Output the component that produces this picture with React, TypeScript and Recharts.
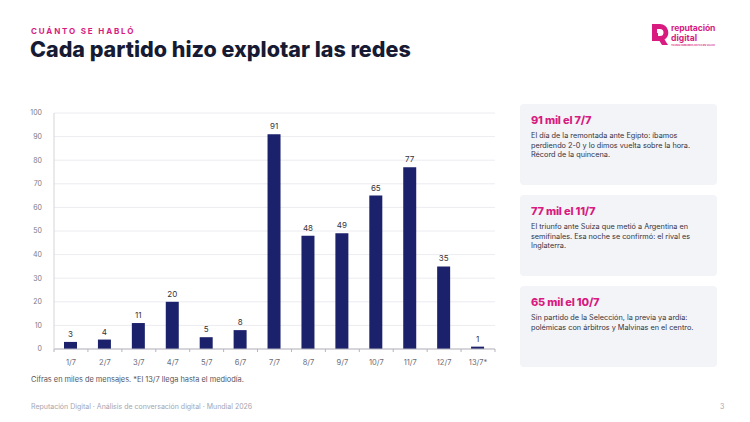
import { Bar, BarChart, CartesianGrid, LabelList, XAxis, YAxis } from "recharts";

const days = ["1/7", "2/7", "3/7", "4/7", "5/7", "6/7", "7/7", "8/7", "9/7", "10/7", "11/7", "12/7", "13/7*"];
const mensajes = [3, 4, 11, 20, 5, 8, 91, 48, 49, 65, 77, 35, 1];
const yTicks = [0, 10, 20, 30, 40, 50, 60, 70, 80, 90, 100];

const highlights = [
  {
    title: "91 mil el 7/7",
    text: "El día de la remontada ante Egipto: íbamos perdiendo 2-0 y lo dimos vuelta sobre la hora. Récord de la quincena.",
  },
  {
    title: "77 mil el 11/7",
    text: "El triunfo ante Suiza que metió a Argentina en semifinales. Esa noche se confirmó: el rival es Inglaterra.",
  },
  {
    title: "65 mil el 10/7",
    text: "Sin partido de la Selección, la previa ya ardía: polémicas con árbitros y Malvinas en el centro.",
  },
];

const PINK = "#d81b7f";
const NAVY = "#1b216b";
const FONT = "Inter, 'Noto Sans', sans-serif";

const CHART_W = 510;
const CHART_H = 275;
const M_LEFT = 54;
const M_RIGHT = 15;
const step = (CHART_W - M_LEFT - M_RIGHT) / days.length;

const rows = days.map((day, i) => ({ day, value: mensajes[i] }));

// category label plus a small tick mark on the band's left edge
function DayTick(props: any) {
  const { x, y, payload, index } = props;
  const left = x - step / 2;
  return (
    <g>
      <line x1={left} x2={left} y1={y - 8} y2={y - 5} stroke="#b5b5bd" strokeWidth={1} />
      {index === days.length - 1 && (
        <line x1={x + step / 2} x2={x + step / 2} y1={y - 8} y2={y - 5} stroke="#b5b5bd" strokeWidth={1} />
      )}
      <text x={x} y={y + 8} textAnchor="middle" fontSize={7.5} fill="#6b6b78" fontFamily={FONT}>
        {payload.value}
      </text>
    </g>
  );
}

function Logo() {
  return (
    <div style={{ position: "absolute", left: 652, top: 24, display: "flex", alignItems: "flex-start" }}>
      <svg width={17} height={21} viewBox="0 0 17 21">
        <path d="M0 0 H8 A8.5 8.5 0 0 1 12.5 15.5 L16 21 H10 L7.5 17 H0 Z M5 5 V12 H8 A3.5 3.5 0 0 0 8 5 Z" fill={PINK} fillRule="evenodd" />
        <rect x={0} y={9} width={6} height={3.5} fill={PINK} />
      </svg>
      <div style={{ marginLeft: 2, color: PINK, fontFamily: FONT, fontWeight: 700 }}>
        <div style={{ fontSize: 8.6, lineHeight: "9.5px", letterSpacing: -0.1 }}>reputación</div>
        <div style={{ fontSize: 8.6, lineHeight: "9.5px" }}>digital</div>
        <div style={{ fontSize: 2.4, lineHeight: "3px", fontWeight: 600, marginTop: 1 }}>
          TRANSFORMAMOS DATOS EN VALOR
        </div>
      </div>
    </div>
  );
}

export default function App() {
  return (
    <div
      style={{
        position: "absolute",
        left: 0,
        top: 0,
        width: 750,
        height: 422,
        background: "#ffffff",
        fontFamily: FONT,
        overflow: "hidden",
      }}
    >
      <div
        style={{
          position: "absolute",
          left: 31,
          top: 26,
          fontSize: 8,
          fontWeight: 700,
          letterSpacing: 1.85,
          color: PINK,
        }}
      >
        CUÁNTO SE HABLÓ
      </div>
      <div
        style={{
          position: "absolute",
          left: 30,
          top: 36,
          fontSize: 21.5,
          fontWeight: 800,
          letterSpacing: 0,
          color: "#161a33",
        }}
      >
        Cada partido hizo explotar las redes
      </div>

      <Logo />

      <div style={{ position: "absolute", left: 0, top: 100 }}>
        <BarChart width={CHART_W} height={CHART_H} data={rows} margin={{ top: 13, right: M_RIGHT, left: 0, bottom: 0 }}>
          <CartesianGrid vertical={false} stroke="#ececf1" />
          <XAxis
            dataKey="day"
            height={26}
            interval={0}
            axisLine={{ stroke: "#b5b5bd" }}
            tickLine={false}
            tick={<DayTick />}
          />
          <YAxis
            width={M_LEFT}
            domain={[0, 100]}
            ticks={yTicks}
            interval={0}
            axisLine={{ stroke: "#d5d5db" }}
            tickLine={false}
            tick={{ fontSize: 7, fill: "#7a7a86", fontFamily: FONT }}
            tickMargin={6}
          />
          <Bar dataKey="value" fill={NAVY} barSize={13} isAnimationActive={false}>
            <LabelList dataKey="value" position="top" offset={5} fontSize={8} fill="#33333d" fontFamily={FONT} />
          </Bar>
        </BarChart>
      </div>

      {highlights.map((h, i) => (
        <div
          key={h.title}
          style={{
            position: "absolute",
            left: 520,
            top: 104 + i * 91,
            width: 197,
            height: 81,
            boxSizing: "border-box",
            padding: "9px 11px",
            background: "#f3f4f8",
            borderRadius: 4,
          }}
        >
          <div style={{ fontSize: 11, fontWeight: 800, color: PINK, letterSpacing: -0.2 }}>{h.title}</div>
          <div style={{ marginTop: 4, fontSize: 7.3, lineHeight: "9.5px", color: "#33333f" }}>{h.text}</div>
        </div>
      ))}

      <div style={{ position: "absolute", left: 31, top: 375, fontSize: 7.4, color: "#555560" }}>
        Cifras en miles de mensajes. *El 13/7 llega hasta el mediodía.
      </div>
      <div style={{ position: "absolute", left: 31, top: 402, fontSize: 7, color: "#a5a5b0" }}>
        Reputación Digital · Análisis de conversación digital · Mundial 2026
      </div>
      <div style={{ position: "absolute", left: 720, top: 402, fontSize: 7, color: "#a5a5b0" }}>3</div>
    </div>
  );
}
